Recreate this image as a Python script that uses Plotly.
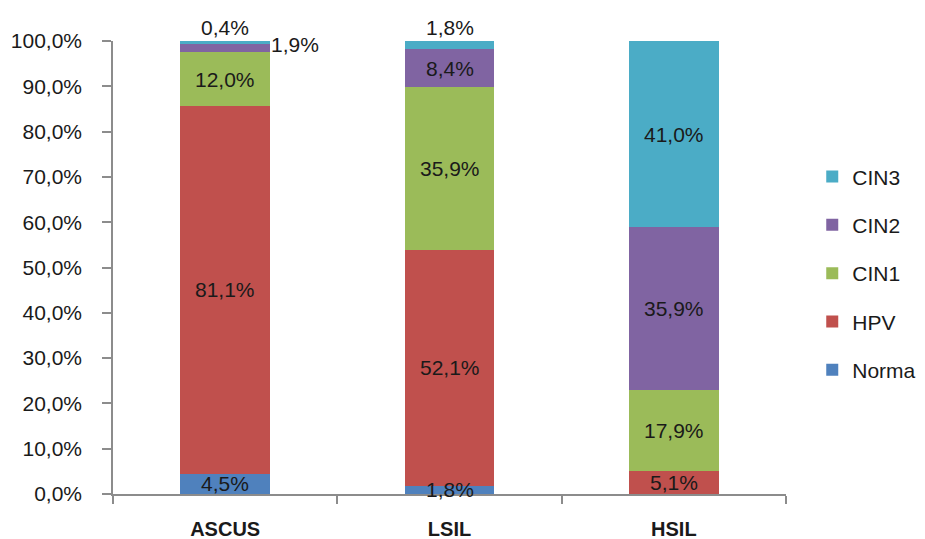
import plotly.graph_objects as go

categories = ["ASCUS", "LSIL", "HSIL"]
series_names = ["Norma", "HPV", "CIN1", "CIN2", "CIN3"]
norma = [4.5, 1.8, 0.0]
hpv = [81.1, 52.1, 5.1]
cin1 = [12.0, 35.9, 17.9]
cin2 = [1.9, 8.4, 35.9]
cin3 = [0.4, 1.8, 41.0]
colors = ["#4F81BD", "#C0504D", "#9BBB59", "#8064A2", "#4BACC6"]
y_ticks = [0, 10, 20, 30, 40, 50, 60, 70, 80, 90, 100]

series_values = [norma, hpv, cin1, cin2, cin3]

FONT = "Liberation Sans"
TXT = "#1a1a1a"
AXIS = "#8c8c8c"


def pct(v):
    return f"{v:.1f}".replace(".", ",") + "%"


fig = go.Figure()
n = len(series_names)
for i, (name, vals, col) in enumerate(zip(series_names, series_values, colors)):
    fig.add_trace(go.Bar(
        x=categories, y=vals, name=name, marker=dict(color=col, line=dict(width=0)),
        width=0.4, legendgroup=name, legendrank=n - i, hoverinfo="skip",
    ))

# segment labels: centred in the segment, except a few thin ones placed outside
outside = {("ASCUS", "CIN3"): "above", ("ASCUS", "CIN2"): "right", ("LSIL", "CIN3"): "above"}
annotations = []
for ci, cat in enumerate(categories):
    base = 0.0
    for name, vals in zip(series_names, series_values):
        v = vals[ci]
        if v > 0:
            mode = outside.get((cat, name), "center")
            a = dict(x=cat, text=pct(v), showarrow=False, borderpad=0,
                     font=dict(family=FONT, size=21, color=TXT))
            if mode == "above":
                top = sum(s[ci] for s in series_values)
                a.update(y=top, yanchor="bottom", yshift=1)
            elif mode == "right":
                a.update(y=base + v / 2, xanchor="left", xshift=45, yshift=3)
            else:
                a.update(y=base + v / 2, yanchor="middle")
            annotations.append(a)
        base += v

fig.update_layout(
    barmode="stack",
    width=925, height=539,
    margin=dict(l=113, r=139, t=41, b=45, autoexpand=False),
    paper_bgcolor="white", plot_bgcolor="white",
    font=dict(family=FONT, size=21, color=TXT),
    showlegend=True,
    legend=dict(
        traceorder="grouped", tracegroupgap=18,
        x=1.039, xanchor="left", y=0.487, yanchor="middle",
        font=dict(family=FONT, size=21, color=TXT),
        bgcolor="rgba(0,0,0,0)",
    ),
    annotations=annotations,
    bargap=0.6,
)
fig.update_xaxes(
    type="category", range=[-0.5, 2.5], automargin=False,
    showline=True, linecolor=AXIS, linewidth=1.5,
    ticks="outside", ticklen=8, tickcolor=AXIS, tickwidth=1.5,
    tickson="boundaries", showgrid=False, ticklabelstandoff=16,
    tickfont=dict(family=FONT, size=20, color=TXT, weight="bold"),
)
fig.update_yaxes(
    range=[0, 100], tickvals=y_ticks, ticktext=[pct(t) for t in y_ticks],
    automargin=False,
    showline=True, linecolor=AXIS, linewidth=1.5,
    ticks="outside", ticklen=9, tickcolor=AXIS, tickwidth=1.5,
    showgrid=False, zeroline=False, ticklabelstandoff=16,
    tickfont=dict(family=FONT, size=21, color=TXT),
)

fig.write_html("out.html")
